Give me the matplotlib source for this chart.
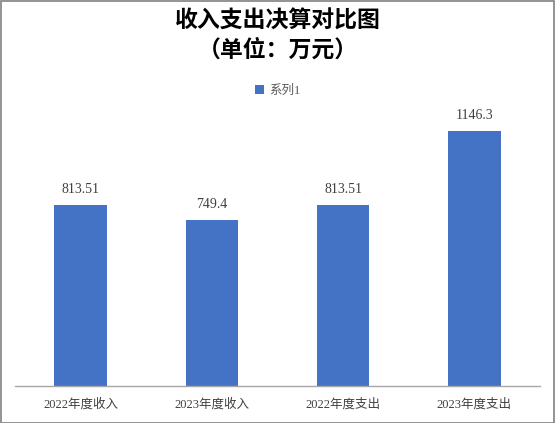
import matplotlib.pyplot as plt
from matplotlib.patches import Rectangle

categories = ['2022年度收入', '2023年度收入', '2022年度支出', '2023年度支出']
values = [813.51, 749.4, 813.51, 1146.3]
value_labels = ['813.51', '749.4', '813.51', '1146.3']

plt.rcParams['font.family'] = ['Liberation Serif', 'Noto Sans CJK SC', 'DejaVu Sans']

fig = plt.figure(figsize=(5.55, 4.23), dpi=100)
W, H = 555, 423

ax = fig.add_axes([15 / W, (H - 386) / H, 525 / W, 311 / H])
x = range(len(categories))
bars = ax.bar(x, values, width=0.4, color='#4472C4', label='系列1', zorder=2)
for xi, v, lab in zip(x, values, value_labels):
    ax.text(xi, v + 40, lab, ha='center', va='bottom', fontsize=10, color='#404040')

ax.set_xlim(-0.5, len(categories) - 0.5)
ax.set_ylim(0, 1400)
ax.set_xticks(list(x))
ax.set_xticklabels(categories, fontsize=9, color='#404040')
ax.tick_params(axis='x', length=0, pad=9)
ax.set_yticks([])
for s in ['top', 'right', 'left']:
    ax.spines[s].set_visible(False)
ax.spines['bottom'].set_color('#A6A6A6')
ax.spines['bottom'].set_linewidth(1)

fig.text(0.5, 1 - 22 / H, '收入支出决算对比图', ha='center', va='center',
         fontsize=16.5, fontweight='bold', color='#000000')
fig.text(0.5, 1 - 50 / H, '（单位：万元）', ha='center', va='center',
         fontsize=16.5, fontweight='bold', color='#000000')

fig.legend(handles=[bars], labels=['系列1'], loc='center', bbox_to_anchor=(0.5, 1 - 91 / H),
           frameon=False, fontsize=9, handlelength=0.7, handleheight=0.7,
           handletextpad=0.4, labelcolor='#595959')

fig.patches.append(Rectangle((0.5 / W, 0.5 / H), 1 - 1.5 / W, 1 - 1.5 / H, transform=fig.transFigure,
                             fill=False, edgecolor='#808080', linewidth=1.2))

fig.savefig('out.png', dpi=100)
